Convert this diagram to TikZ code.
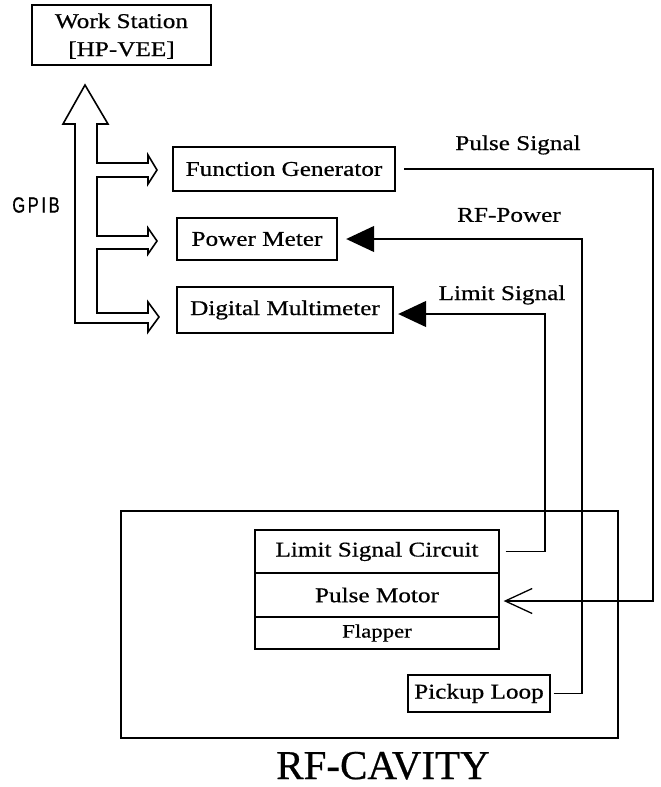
\documentclass[tikz,border=0pt]{standalone}
\usepackage{fontspec}
\setmainfont{Liberation Serif}[FakeStretch=1.2,FakeBold=0.6]
\newfontfamily\titlefont{Liberation Serif}[FakeBold=0.6]
\newfontfamily\busfont{Liberation Sans}[FakeStretch=0.75,LetterSpace=12,FakeBold=0.6]
\usetikzlibrary{arrows.meta}
\begin{document}
\begin{tikzpicture}[x=1pt,y=-1pt,
  txt/.style={font=\fontsize{21}{29}\selectfont},
  box/.style={draw, line width=1.3pt, inner sep=0pt, txt, align=center},
  instr/.style={box, line width=2.4pt},
  layer/.style={box, minimum width=244pt},
  wire/.style={line width=1.3pt, line join=miter},
  solidtip/.style={-{Triangle[length=28pt,width=26pt]}},
  opentip/.style={-{Straight Barb[length=27pt,width=25pt,line width=1.3pt]}},
  lbl/.style={txt, inner sep=0pt}
]
\useasboundingbox (0,0) rectangle (661,787);

% host and instruments
\node[box, minimum width=179pt, minimum height=60pt] (ws) at (121.5,35) {};
\node[txt, inner sep=0pt, anchor=base] (wsa) at (121.5,28) {Work Station};
\node[txt, inner sep=0pt, anchor=base] (wsb) at (121.5,56) {[HP-VEE]};
\node[instr, minimum width=222pt, minimum height=44pt] (fg) at (284,169) {Function Generator};
\node[instr, minimum width=160pt, minimum height=42pt] (pm) at (257,239) {Power Meter};
\node[instr, minimum width=216pt, minimum height=46pt] (dmm) at (285,310) {Digital Multimeter};

% GPIB bus drawn as one hollow branching arrow
\draw[line width=1.6pt, line join=miter]
  (85,85) -- (108,124) -- (97,124) -- (97,163) -- (148,163) -- (148,155)
  -- (157,170) -- (148,184) -- (148,177) -- (97,177) -- (97,236)
  -- (148,236) -- (148,228) -- (157,241) -- (148,254) -- (148,249)
  -- (97,249) -- (97,313) -- (148,313) -- (148,302) -- (159,317)
  -- (148,332) -- (148,323) -- (75,323) -- (75,124) -- (63,124) -- cycle;
\node[font=\busfont\fontsize{22}{24}\selectfont, inner sep=0pt] (gpib) at (36,205) {GPIB};

% cavity and its parts
\node[draw, line width=1.1pt, minimum width=497pt, minimum height=227pt, inner sep=0pt] (cav) at (369.5,624.5) {};
\node[layer, minimum height=43pt] (lsc) at (377,551.5) {Limit Signal Circuit};
\node[layer, minimum height=44pt] (pmo) at (377,595) {Pulse Motor};
\node[layer, minimum height=32pt, font=\fontsize{19}{22}\selectfont] (fl) at (377,633) {Flapper};
\node[box, minimum width=142pt, minimum height=37pt] (pl) at (479,693.5) {Pickup Loop};
\node[font=\titlefont\fontsize{41}{46}\selectfont, inner sep=0pt, anchor=base] (title) at (383,779) {RF-CAVITY};

% signal lines
\coordinate (psx) at (653,0);
\coordinate (rfx) at (582,0);
\coordinate (lsx) at (545,0);
\draw[wire, opentip, shorten <=8pt, shorten >=4pt]
  (fg.east) -- (fg.east -| psx) |- ([yshift=-6pt]pmo.east);
\draw[wire, solidtip, shorten <=3pt, shorten >=8pt]
  (pl.east) -- (pl.east -| rfx) |- (pm.east);
\draw[wire, solidtip, shorten <=6pt, shorten >=4pt]
  (lsc.east) -- (lsc.east -| lsx) |- ([yshift=-4pt]dmm.east);

% signal names
\node[lbl] (pslbl) at (518,145) {Pulse Signal};
\node[lbl] (rflbl) at (509,215) {RF-Power};
\node[lbl] (lslbl) at (502,295) {Limit Signal};
\end{tikzpicture}
\end{document}
